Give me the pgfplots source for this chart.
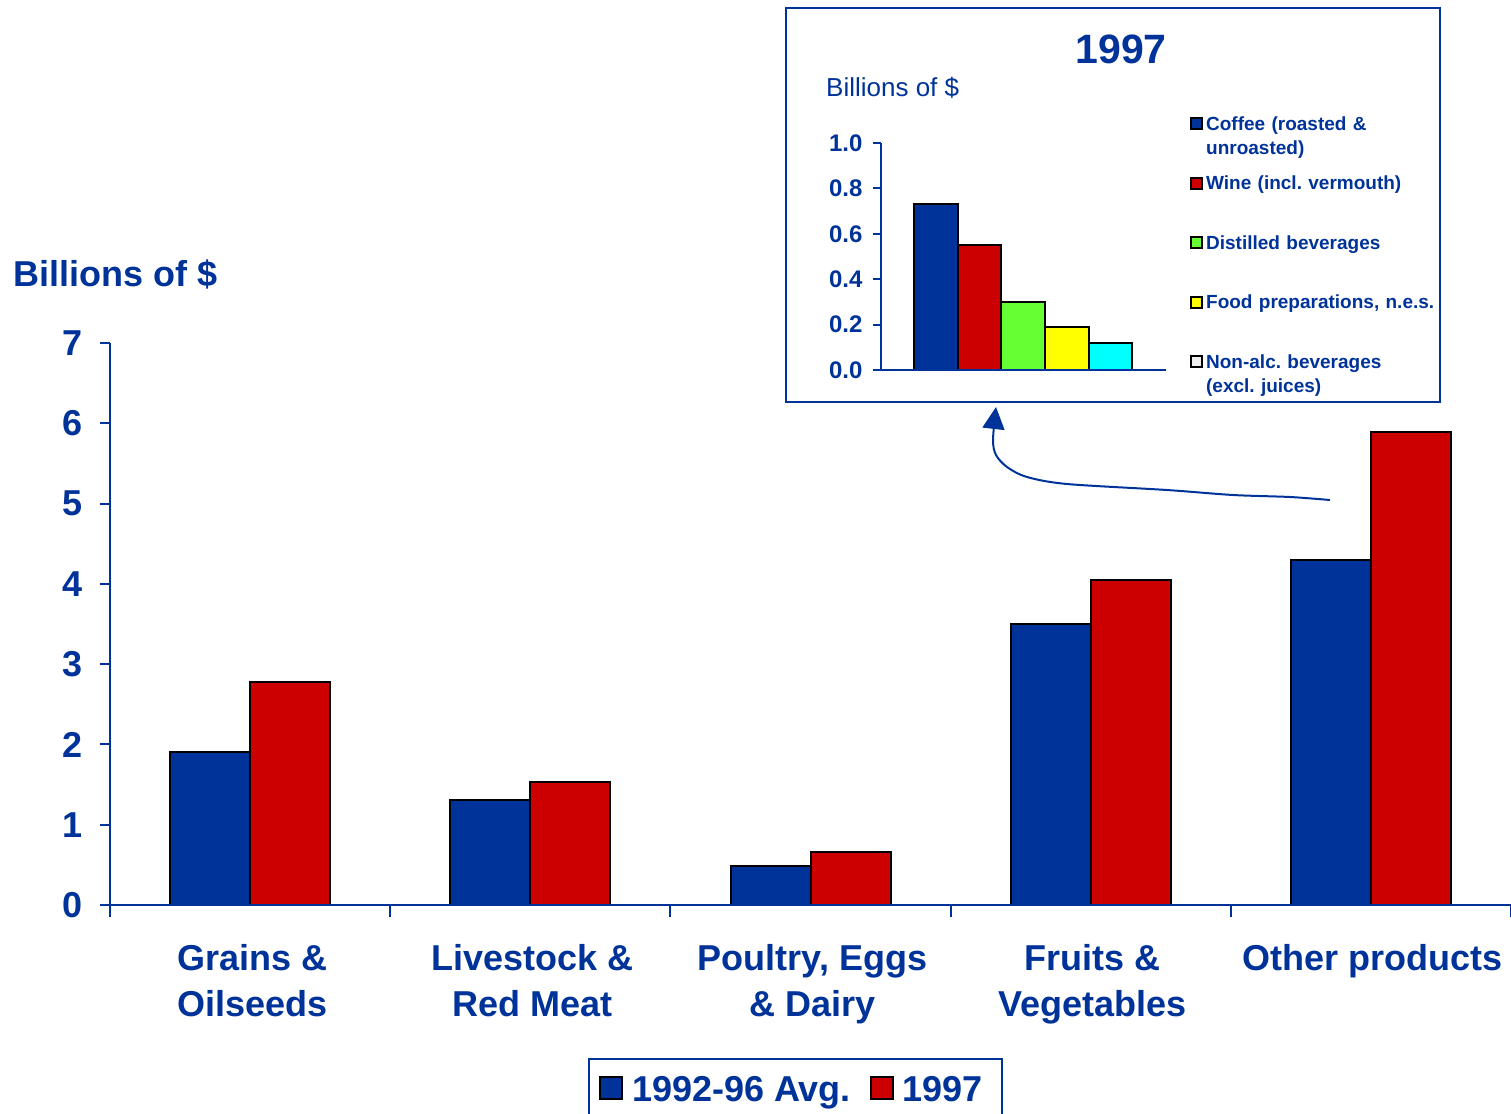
\documentclass[border=0pt]{standalone}
\usepackage{fontspec}
\setmainfont{Liberation Sans}
\usepackage{pgfplots}
\pgfplotsset{compat=1.18}
\usetikzlibrary{arrows.meta}
\definecolor{cblue}{HTML}{003399}
\definecolor{cred}{HTML}{CC0000}
\definecolor{cgreen}{HTML}{66FF33}
\definecolor{cyellow}{HTML}{FFFF00}
\definecolor{ccyan}{HTML}{00FFFF}
\definecolor{cgrey}{HTML}{EEEEEE}
\frenchspacing
\begin{document}
\begin{tikzpicture}
% ---------------- main chart ----------------
\begin{axis}[
  at={(110pt,-905pt)}, anchor=south west,
  scale only axis, width=1401pt, height=562pt,
  xmin=-0.5, xmax=4.5, ymin=0, ymax=7,
  axis lines=left, axis on top,
  axis line style={draw=cblue, line width=2.5pt, -},
  ytick={0,1,2,3,4,5,6,7},
  xtick={0,1,2,3,4},
  xticklabels={{Grains \&\\Oilseeds},{Livestock \&\\Red Meat},{Poultry, Eggs\\\& Dairy},{Fruits \&\\Vegetables},{Other products}},
  minor xtick={-0.5,0.5,1.5,2.5,3.5,4.5},
  tick align=outside,
  major tick length=10pt, minor tick length=12pt,
  major x tick style={draw=none},
  tick style={draw=cblue, line width=2pt},
  /pgf/number format/assume math mode=true,
  ticklabel style={font=\fontsize{36}{46}\selectfont\bfseries, text=cblue},
  xticklabel style={align=center, yshift=-26pt, xshift=2pt},
  yticklabel style={xshift=-14pt},
  ybar=0pt, bar width=80pt,
  legend columns=2,
  legend style={at={(0.3412,-0.2722)}, anchor=north west,
    draw=cblue, line width=2pt, fill=white,
    font=\fontsize{36}{40}\selectfont\bfseries, text=cblue,
    inner xsep=10pt, inner ysep=9pt,
    cells={anchor=base west},
    nodes={inner xsep=9pt, inner ysep=8pt},
    /tikz/every even column/.append style={column sep=10pt}},
  legend image code/.code={\draw[#1] (0pt,2pt) rectangle (22pt,24pt);},
]
\addplot[fill=cblue, draw=black, line width=2pt] coordinates {(0,1.90) (1,1.31) (2,0.48) (3,3.50) (4,4.30)};
\addlegendentry{1992-96 Avg.}
\addplot[fill=cred, draw=black, line width=2pt] coordinates {(0,2.78) (1,1.53) (2,0.66) (3,4.05) (4,5.89)};
\addlegendentry{1997}
\end{axis}
% ---------------- inset chart ----------------
\begin{axis}[
  at={(881pt,-370pt)}, anchor=south west,
  scale only axis, width=285pt, height=227pt,
  xmin=0, xmax=285, ymin=0, ymax=1,
  axis lines=left, axis on top,
  axis line style={draw=cblue, line width=2pt, -},
  xtick=\empty,
  ytick={0,0.2,0.4,0.6,0.8,1.0},
  tick align=outside, major tick length=8pt,
  tick style={draw=cblue, line width=2pt},
  /pgf/number format/assume math mode=true,
  yticklabel style={font=\fontsize{24}{24}\selectfont\bfseries, text=cblue, xshift=-7pt,
    /pgf/number format/.cd, fixed, fixed zerofill, precision=1},
  ybar=0pt, bar width=43.6,
  legend style={at={(1.084,1.119)}, anchor=north west,
    draw=none, fill=none, inner sep=0pt,
    font=\fontsize{19}{24}\selectfont\bfseries\frenchspacing, text=cblue,
    cells={anchor=base west}, row sep=0pt,
    nodes={inner xsep=3pt, inner ysep=0pt, text width=240pt, align=left, text height=14pt, text depth=45.5pt}},
  legend image code/.code={\draw[#1] (0pt,1pt) rectangle (11pt,12pt);},
]
\addplot[fill=cblue, draw=black, line width=2pt] coordinates {(142.2,0.73)};
\addlegendentry{Coffee (roasted \&\\unroasted)}
\addplot[fill=cred, draw=black, line width=2pt] coordinates {(142.2,0.55)};
\addlegendentry{Wine (incl. vermouth)}
\addplot[fill=cgreen, draw=black, line width=2pt] coordinates {(142.2,0.30)};
\addlegendentry{Distilled beverages}
\addplot[fill=cyellow, draw=black, line width=2pt] coordinates {(142.2,0.19)};
\addlegendentry{Food preparations, n.e.s.}
\addplot[fill=ccyan, draw=black, line width=2pt,
  legend image code/.code={\draw[fill=cgrey, draw=black, line width=2pt] (0pt,1pt) rectangle (11pt,12pt);}] coordinates {(142.2,0.12)};
\addlegendentry{Non-alc. beverages\\(excl. juices)}
\end{axis}
% ---------------- annotations ----------------
\begin{scope}[x=1pt,y=-1pt]
\node[anchor=base west, inner sep=0pt, font=\fontsize{36}{36}\selectfont\bfseries, text=cblue] at (13,286) {Billions of \$};
\draw[cblue, line width=2pt] (786,8) rectangle (1440,402);
\node[inner sep=0pt, font=\fontsize{41}{41}\selectfont\bfseries, text=cblue] at (1121,49) {1997};
\node[anchor=base west, inner sep=0pt, font=\fontsize{26}{26}\selectfont, text=cblue] at (826,97) {Billions of \$};
\draw[cblue, line width=2pt, -{Triangle[length=22pt,width=22pt]}] plot[smooth, tension=0.5] coordinates {(1330,500) (1290,497) (1233,495) (1167,490) (1067,484) (1027,477) (1007,467) (996,455) (993,440) (996,407)};
\pgfresetboundingbox
\path[use as bounding box] (0,0) rectangle (1511,1113);
\end{scope}
\end{tikzpicture}
\end{document}
